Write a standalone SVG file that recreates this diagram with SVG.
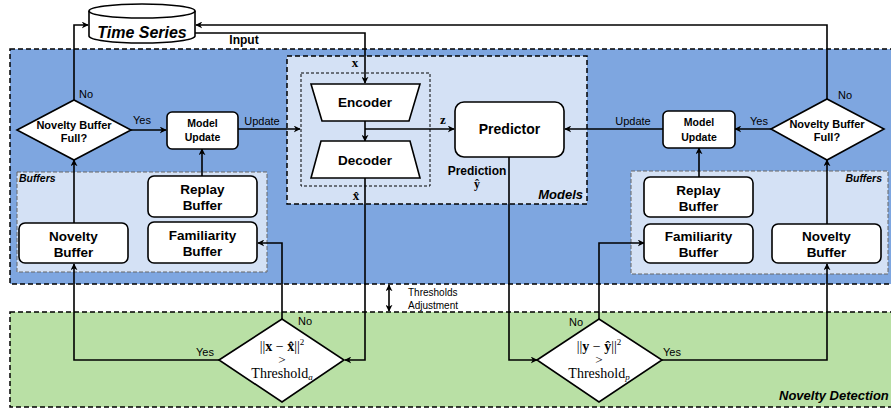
<svg xmlns="http://www.w3.org/2000/svg" width="891" height="408" viewBox="0 0 891 408">
  <defs>
    <marker id="arr" viewBox="0 0 10 10" refX="9" refY="5" markerWidth="7" markerHeight="7" markerUnits="userSpaceOnUse" orient="auto-start-reverse">
      <path d="M0,0 L10,5 L0,10 L3,5 Z" fill="#000"/>
    </marker>
  </defs>
  <style>
    .region { stroke: #000; stroke-width: 1.5; stroke-dasharray: 5 3; }
    .box { fill: #fff; stroke: #000; stroke-width: 1.6; }
    .edge { fill: none; stroke: #000; stroke-width: 1.6; marker-end: url(#arr); }
    .line { fill: none; stroke: #000; stroke-width: 1.6; }
    .sans { font-family: "Liberation Sans", Arial, sans-serif; }
    .b { font-weight: bold; }
    .bi { font-weight: bold; font-style: italic; }
    .lbl { font-family: "Liberation Sans", Arial, sans-serif; font-size: 11px; }
    .math { font-family: "Liberation Serif", "DejaVu Serif", serif; }
  </style>

  <!-- regions -->
  <g id="region-models-area">
    <rect class="region" x="10" y="49" width="890" height="235" fill="#7EA6E0"/>
  </g>
  <g id="region-novelty-detection">
    <rect class="region" x="10" y="312" width="890" height="95" fill="#B9E0A5"/>
    <text class="sans bi" x="779" y="400" font-size="13">Novelty Detection</text>
  </g>
  <g id="models-group">
    <rect class="region" x="287" y="56" width="300" height="148" fill="#D4E1F5"/>
    <text class="sans bi" x="583" y="199" font-size="13" text-anchor="end">Models</text>
    <rect x="301" y="73" width="129" height="113" fill="none" stroke="#000" stroke-width="1" stroke-dasharray="3 2"/>
  </g>
  <g id="buffers-left">
    <rect x="17" y="172" width="250" height="100" fill="#D4E1F5" stroke="#666" stroke-width="1" stroke-dasharray="4 2"/>
    <text class="sans bi" x="19" y="182" font-size="10.5">Buffers</text>
  </g>
  <g id="buffers-right">
    <rect x="631" y="171" width="257" height="103" fill="#D4E1F5" stroke="#666" stroke-width="1" stroke-dasharray="4 2"/>
    <text class="sans bi" x="882" y="182" font-size="10.5" text-anchor="end">Buffers</text>
  </g>

  <!-- connectors -->
  <g id="connectors">
    <path class="edge" d="M74,100 V25 H88"/>
    <path class="edge" d="M827,99 V25 H196"/>
    <path class="edge" d="M195,33 H365 V83"/>
    <path class="edge" d="M365,121 V141"/>
    <path class="edge" d="M365,129 H454"/>
    <path class="edge" d="M131,130 H166"/>
    <path class="edge" d="M238,129 H300"/>
    <path class="edge" d="M202,176 V149"/>
    <path class="edge" d="M74,223 V160"/>
    <path class="edge" d="M771,129 H735"/>
    <path class="edge" d="M663,129 H565"/>
    <path class="edge" d="M699,177 V148"/>
    <path class="edge" d="M827,224 V160"/>
    <path class="edge" d="M365,178 V360 H345"/>
    <path class="edge" d="M282,319 V243 H258"/>
    <path class="edge" d="M219,360 H74 V264"/>
    <path class="edge" d="M509,157 V360 H537"/>
    <path class="edge" d="M599,319 V243 H644"/>
    <path class="edge" d="M662,360 H827 V264"/>
    <path class="edge" d="M389,285 V311" marker-start="url(#arr)"/>
    <!-- connector labels -->
    <text class="sans b" x="244" y="44" font-size="12" text-anchor="middle">Input</text>
    <text class="lbl" x="79" y="98">No</text>
    <text class="lbl" x="142" y="124" text-anchor="middle">Yes</text>
    <text class="lbl" x="262" y="125" text-anchor="middle">Update</text>
    <text class="lbl" x="838" y="99">No</text>
    <text class="lbl" x="759" y="125" text-anchor="middle">Yes</text>
    <text class="lbl" x="633" y="125" text-anchor="middle">Update</text>
    <text class="math b" x="355" y="67" font-size="13" text-anchor="middle">x</text>
    <text class="math b" x="356" y="200" font-size="13" text-anchor="middle">x̂</text>
    <text class="math b" x="443" y="124" font-size="13" text-anchor="middle">z</text>
    <text class="sans b" x="477" y="175" font-size="12" text-anchor="middle">Prediction</text>
    <text class="math b" x="477" y="188" font-size="12" text-anchor="middle">ŷ</text>
    <text class="lbl" x="305" y="325" text-anchor="middle">No</text>
    <text class="lbl" x="205" y="356" text-anchor="middle">Yes</text>
    <text class="lbl" x="576" y="326" text-anchor="middle">No</text>
    <text class="lbl" x="672" y="356" text-anchor="middle">Yes</text>
    <text class="sans" x="408" y="296" font-size="10">Thresholds</text>
    <text class="sans" x="408" y="309" font-size="10">Adjustment</text>
  </g>

  <!-- nodes -->
  <g id="time-series">
    <path class="box" d="M89,11 A53,7 0 0 1 195,11 V36 A53,7 0 0 1 89,36 Z"/>
    <path class="line" d="M89,11 A53,7 0 0 0 195,11"/>
    <text class="sans bi" x="142" y="38" font-size="16" text-anchor="middle">Time Series</text>
  </g>
  <g id="encoder">
    <path class="box" d="M311,84 H420 L409,121 H322 Z"/>
    <text class="sans b" x="365" y="107" font-size="13.5" text-anchor="middle">Encoder</text>
  </g>
  <g id="decoder">
    <path class="box" d="M321,141 H410 L420,178 H311 Z"/>
    <text class="sans b" x="365" y="165" font-size="13.5" text-anchor="middle">Decoder</text>
  </g>
  <g id="predictor">
    <rect class="box" x="455" y="102" width="109" height="55" rx="9"/>
    <text class="sans b" x="509.5" y="134" font-size="14" text-anchor="middle">Predictor</text>
  </g>
  <g id="novelty-full-left">
    <path class="box" d="M17,130 L74,100 L131,130 L74,160 Z"/>
    <text class="sans b" x="74" y="129" font-size="11" text-anchor="middle">Novelty Buffer</text>
    <text class="sans b" x="74" y="142" font-size="11" text-anchor="middle">Full?</text>
  </g>
  <g id="model-update-left">
    <rect class="box" x="167" y="112" width="71" height="37" rx="5"/>
    <text class="sans b" x="202.5" y="127" font-size="10.5" text-anchor="middle">Model</text>
    <text class="sans b" x="202.5" y="141" font-size="10.5" text-anchor="middle">Update</text>
  </g>
  <g id="replay-left">
    <rect class="box" x="148" y="176" width="109" height="41" rx="6"/>
    <text class="sans b" x="202.5" y="194" font-size="13.5" text-anchor="middle">Replay</text>
    <text class="sans b" x="202.5" y="210" font-size="13.5" text-anchor="middle">Buffer</text>
  </g>
  <g id="familiarity-left">
    <rect class="box" x="148" y="222" width="109" height="41" rx="6"/>
    <text class="sans b" x="202.5" y="240" font-size="13.5" text-anchor="middle">Familiarity</text>
    <text class="sans b" x="202.5" y="256" font-size="13.5" text-anchor="middle">Buffer</text>
  </g>
  <g id="novelty-left">
    <rect class="box" x="19" y="223" width="109" height="40" rx="6"/>
    <text class="sans b" x="73.5" y="241" font-size="13.5" text-anchor="middle">Novelty</text>
    <text class="sans b" x="73.5" y="257" font-size="13.5" text-anchor="middle">Buffer</text>
  </g>
  <g id="novelty-full-right">
    <path class="box" d="M771,129 L827,99 L884,129 L827,160 Z"/>
    <text class="sans b" x="827" y="128" font-size="11" text-anchor="middle">Novelty Buffer</text>
    <text class="sans b" x="827" y="141" font-size="11" text-anchor="middle">Full?</text>
  </g>
  <g id="model-update-right">
    <rect class="box" x="663" y="111" width="72" height="37" rx="5"/>
    <text class="sans b" x="699" y="126" font-size="10.5" text-anchor="middle">Model</text>
    <text class="sans b" x="699" y="141" font-size="10.5" text-anchor="middle">Update</text>
  </g>
  <g id="replay-right">
    <rect class="box" x="644" y="177" width="109" height="40" rx="6"/>
    <text class="sans b" x="698.5" y="195" font-size="13.5" text-anchor="middle">Replay</text>
    <text class="sans b" x="698.5" y="211" font-size="13.5" text-anchor="middle">Buffer</text>
  </g>
  <g id="familiarity-right">
    <rect class="box" x="644" y="224" width="109" height="39" rx="6"/>
    <text class="sans b" x="698.5" y="241" font-size="13.5" text-anchor="middle">Familiarity</text>
    <text class="sans b" x="698.5" y="257" font-size="13.5" text-anchor="middle">Buffer</text>
  </g>
  <g id="novelty-right">
    <rect class="box" x="772" y="224" width="109" height="39" rx="6"/>
    <text class="sans b" x="826.5" y="241" font-size="13.5" text-anchor="middle">Novelty</text>
    <text class="sans b" x="826.5" y="257" font-size="13.5" text-anchor="middle">Buffer</text>
  </g>
  <g id="threshold-a">
    <path class="box" d="M219,360 L282,319 L344,360 L282,402 Z"/>
    <text class="math" x="282" y="351" font-size="14" text-anchor="middle">||<tspan font-weight="bold">x</tspan> − <tspan font-weight="bold">x̂</tspan>||<tspan font-size="9" dy="-6">2</tspan></text>
    <text class="math" x="282" y="364" font-size="13" text-anchor="middle">&gt;</text>
    <text class="math" x="282" y="378" font-size="14" text-anchor="middle">Threshold<tspan font-size="9" font-style="italic" dy="2">a</tspan></text>
  </g>
  <g id="threshold-p">
    <path class="box" d="M537,360 L599,319 L662,360 L599,402 Z"/>
    <text class="math" x="599" y="351" font-size="14" text-anchor="middle">||<tspan font-weight="bold">y</tspan> − <tspan font-weight="bold">ŷ</tspan>||<tspan font-size="9" dy="-6">2</tspan></text>
    <text class="math" x="599" y="364" font-size="13" text-anchor="middle">&gt;</text>
    <text class="math" x="599" y="378" font-size="14" text-anchor="middle">Threshold<tspan font-size="9" font-style="italic" dy="2">p</tspan></text>
  </g>
</svg>
